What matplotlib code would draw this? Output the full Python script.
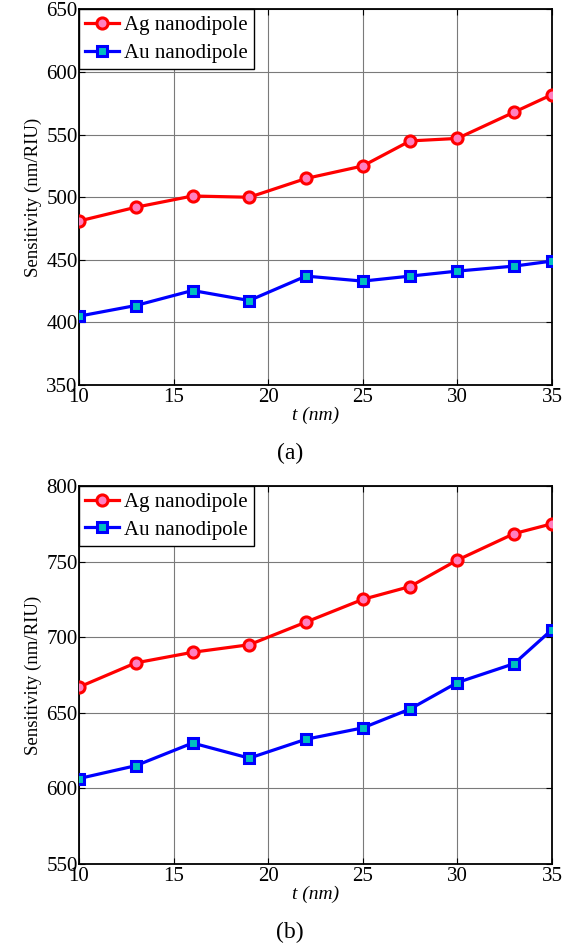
import matplotlib
matplotlib.use('Agg')
import matplotlib.pyplot as plt

# data
t = [10, 13, 16, 19, 22, 25, 27.5, 30, 33, 35]
ag_a = [481, 492, 501, 500, 515, 525, 545, 547, 568, 582]
au_a = [405, 413.5, 425.5, 417.5, 437, 433, 437, 441, 445, 449]
ag_b = [667, 683, 690, 695, 710, 725, 733.5, 751, 768.5, 775]
au_b = [606.5, 615, 630, 620, 632.5, 640, 652.5, 670, 682.5, 705]

ylims = [(350, 650), (550, 800)]
panel_labels = ['(a)', '(b)']

plt.rcParams['font.family'] = ['Liberation Serif', 'DejaVu Serif']

fig = plt.figure(figsize=(5.72, 9.49), dpi=100)

# axes boxes in figure fractions
boxes = [[0.1381, 0.5943, 0.8269, 0.3957], [0.1381, 0.0896, 0.8269, 0.3983]]
label_y = [1 - 453 / 949, 1 - 932 / 949]

for i, (ag, au) in enumerate([(ag_a, au_a), (ag_b, au_b)]):
    ax = fig.add_axes(boxes[i])
    ax.plot(t, ag, '-o', color='red', lw=2.3, ms=8, mew=2.2,
            mfc='#ff80c0', mec='red', label='Ag nanodipole', zorder=3)
    ax.plot(t, au, '-s', color='blue', lw=2.3, ms=7.5, mew=2.2,
            mfc='#00c0c0', mec='blue', label='Au nanodipole', zorder=3)
    ax.set_xlim(10, 35)
    ax.set_ylim(*ylims[i])
    ax.set_xticks([10, 15, 20, 25, 30, 35])
    ax.set_yticks(range(ylims[i][0], ylims[i][1] + 1, 50))
    ax.grid(True, color='#7a7a7a', lw=0.8, ls='-')
    ax.set_axisbelow(True)
    ax.tick_params(direction='in', top=True, right=True, length=4, width=0.8,
                   labelsize=15, pad=2)
    ax.tick_params(axis='y', pad=1)
    for s in ax.spines.values():
        s.set_linewidth(1.3)
    ax.set_ylabel('Sensitivity (nm/RIU)', fontsize=13.5, labelpad=3)
    ax.set_xlabel('t (nm)', fontsize=14, style='italic', labelpad=0)
    leg = ax.legend(loc='upper left', fontsize=15, fancybox=False,
                    framealpha=1, edgecolor='black', borderaxespad=0,
                    handlelength=1.6, handletextpad=0.25, borderpad=0.3,
                    labelspacing=0.4)
    leg.get_frame().set_linewidth(1.0)
    fig.text(0.507, label_y[i], panel_labels[i], ha='center', va='center',
             fontsize=17)

fig.savefig('out.png', dpi=100)
